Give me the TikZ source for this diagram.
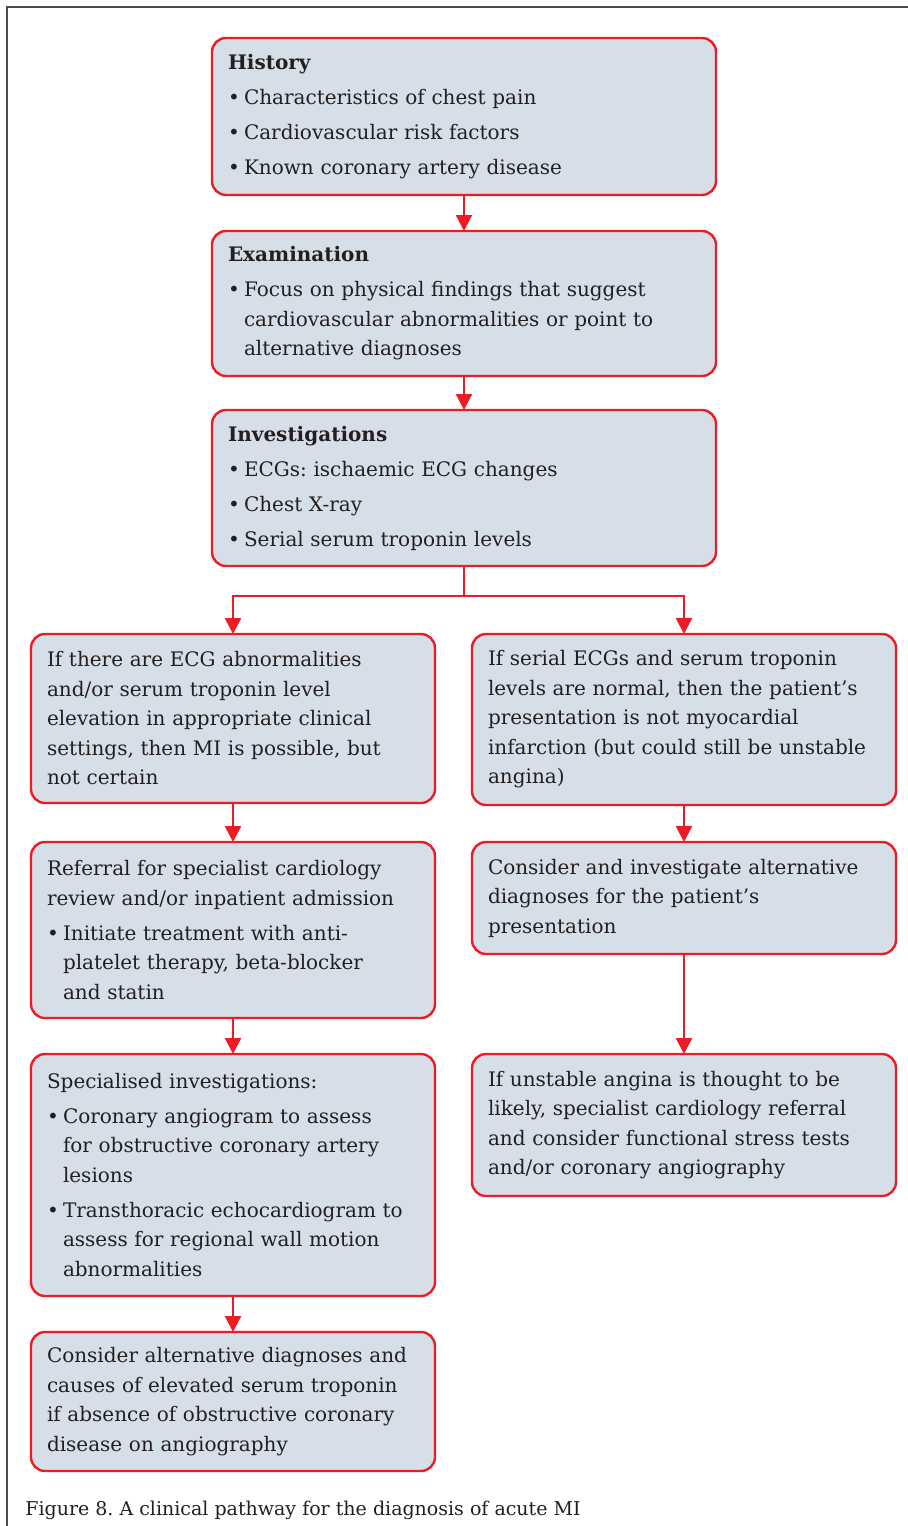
\documentclass[tikz,border=0pt]{standalone}
\usepackage{fontspec}
\setmainfont{DejaVu Serif}
\usetikzlibrary{arrows.meta,positioning}
\definecolor{boxred}{RGB}{237,28,36}
\definecolor{boxfill}{RGB}{214,223,232}
\definecolor{ink}{RGB}{35,31,32}
\setlength{\parindent}{0pt}
\frenchspacing
\newcommand{\bitem}[1]{\par{\hangindent=8pt\hangafter=1\makebox[8pt][l]{\textbullet}#1\par}}

\begin{document}
\begin{tikzpicture}[x=0.5pt,y=-0.5pt,
    box/.style={draw=boxred,fill=boxfill,line width=1.2pt,rounded corners=7pt,
      anchor=north west,align=left,inner xsep=8pt,inner ysep=0pt,outer sep=0pt,text=ink,
      font=\fontsize{10}{14.75}\selectfont\setlength{\parskip}{2.75pt}},
    wbox/.style={box,text width=236pt,minimum width=252pt},
    lbox/.style={box,text width=186pt,minimum width=202pt},
    rbox/.style={box,text width=196pt,minimum width=212pt},
    arr/.style={draw=boxred,line width=1.2pt,-{Triangle[length=8pt,width=8pt]}}]
  \useasboundingbox (0,0) rectangle (908,1526);
  \draw[gray!60!black,line width=0.6pt] (7,1526) -- (7,7) -- (908,7);

  % main column
  \node[wbox,minimum height=78.5pt] (hist) at (212,38)
    {{\bfseries History}\bitem{Characteristics of chest pain}\bitem{Cardiovascular risk factors}\bitem{Known coronary artery disease}};
  \node[wbox,minimum height=72.5pt] (exam) at (212,231)
    {{\bfseries Examination}\bitem{Focus on physical findings that suggest\newline cardiovascular abnormalities or point to\newline alternative diagnoses}};
  \node[wbox,minimum height=78pt] (inv) at (212,410)
    {{\bfseries Investigations}\bitem{ECGs: ischaemic ECG changes}\bitem{Chest X-ray}\bitem{Serial serum troponin levels}};

  % left branch
  \node[lbox,minimum height=84.5pt] (possible) at (31,634)
    {If there are ECG abnormalities\newline and/or serum troponin level\newline elevation in appropriate clinical\newline settings, then MI is possible, but\newline not certain};
  \node[lbox,minimum height=88pt] (referral) at (31,842)
    {Referral for specialist cardiology\newline review and/or inpatient admission\bitem{Initiate treatment with anti-\newline platelet therapy, beta-blocker\newline and statin}};
  \node[lbox,minimum height=121pt] (special) at (31,1054)
    {Specialised investigations:\bitem{Coronary angiogram to assess\newline for obstructive coronary artery\newline lesions}\bitem{Transthoracic echocardiogram to\newline assess for regional wall motion\newline abnormalities}};
  \node[lbox,minimum height=69.5pt] (altcause) at (31,1332)
    {Consider alternative diagnoses and\newline causes of elevated serum troponin\newline if absence of obstructive coronary\newline disease on angiography};

  % right branch
  \node[rbox,minimum height=85.5pt] (normal) at (472,634)
    {If serial ECGs and serum troponin\newline levels are normal, then the patient’s\newline presentation is not myocardial\newline infarction (but could still be unstable\newline angina)};
  \node[rbox,minimum height=56pt] (altdiag) at (472,842)
    {Consider and investigate alternative\newline diagnoses for the patient’s\newline presentation};
  \node[rbox,minimum height=71pt] (unstable) at (472,1054)
    {If unstable angina is thought to be\newline likely, specialist cardiology referral\newline and consider functional stress tests\newline and/or coronary angiography};

  \node[anchor=west,inner sep=0pt,text=ink,font=\fontsize{9.5}{12}\selectfont] (caption) at (25,1510)
    {Figure 8. A clinical pathway for the diagnosis of acute MI};

  \draw[arr] (hist) -- (exam);
  \draw[arr] (exam) -- (inv);
  \draw[arr,-] (inv.south) -- ++(0,30) coordinate (split);
  \draw[arr] (split) -| (possible);
  \draw[arr] (split) -| (normal);
  \draw[arr] (possible) -- (referral);
  \draw[arr] (referral) -- (special);
  \draw[arr] (special) -- (altcause);
  \draw[arr] (normal) -- (altdiag);
  \draw[arr] (altdiag) -- (unstable);
\end{tikzpicture}
\end{document}
